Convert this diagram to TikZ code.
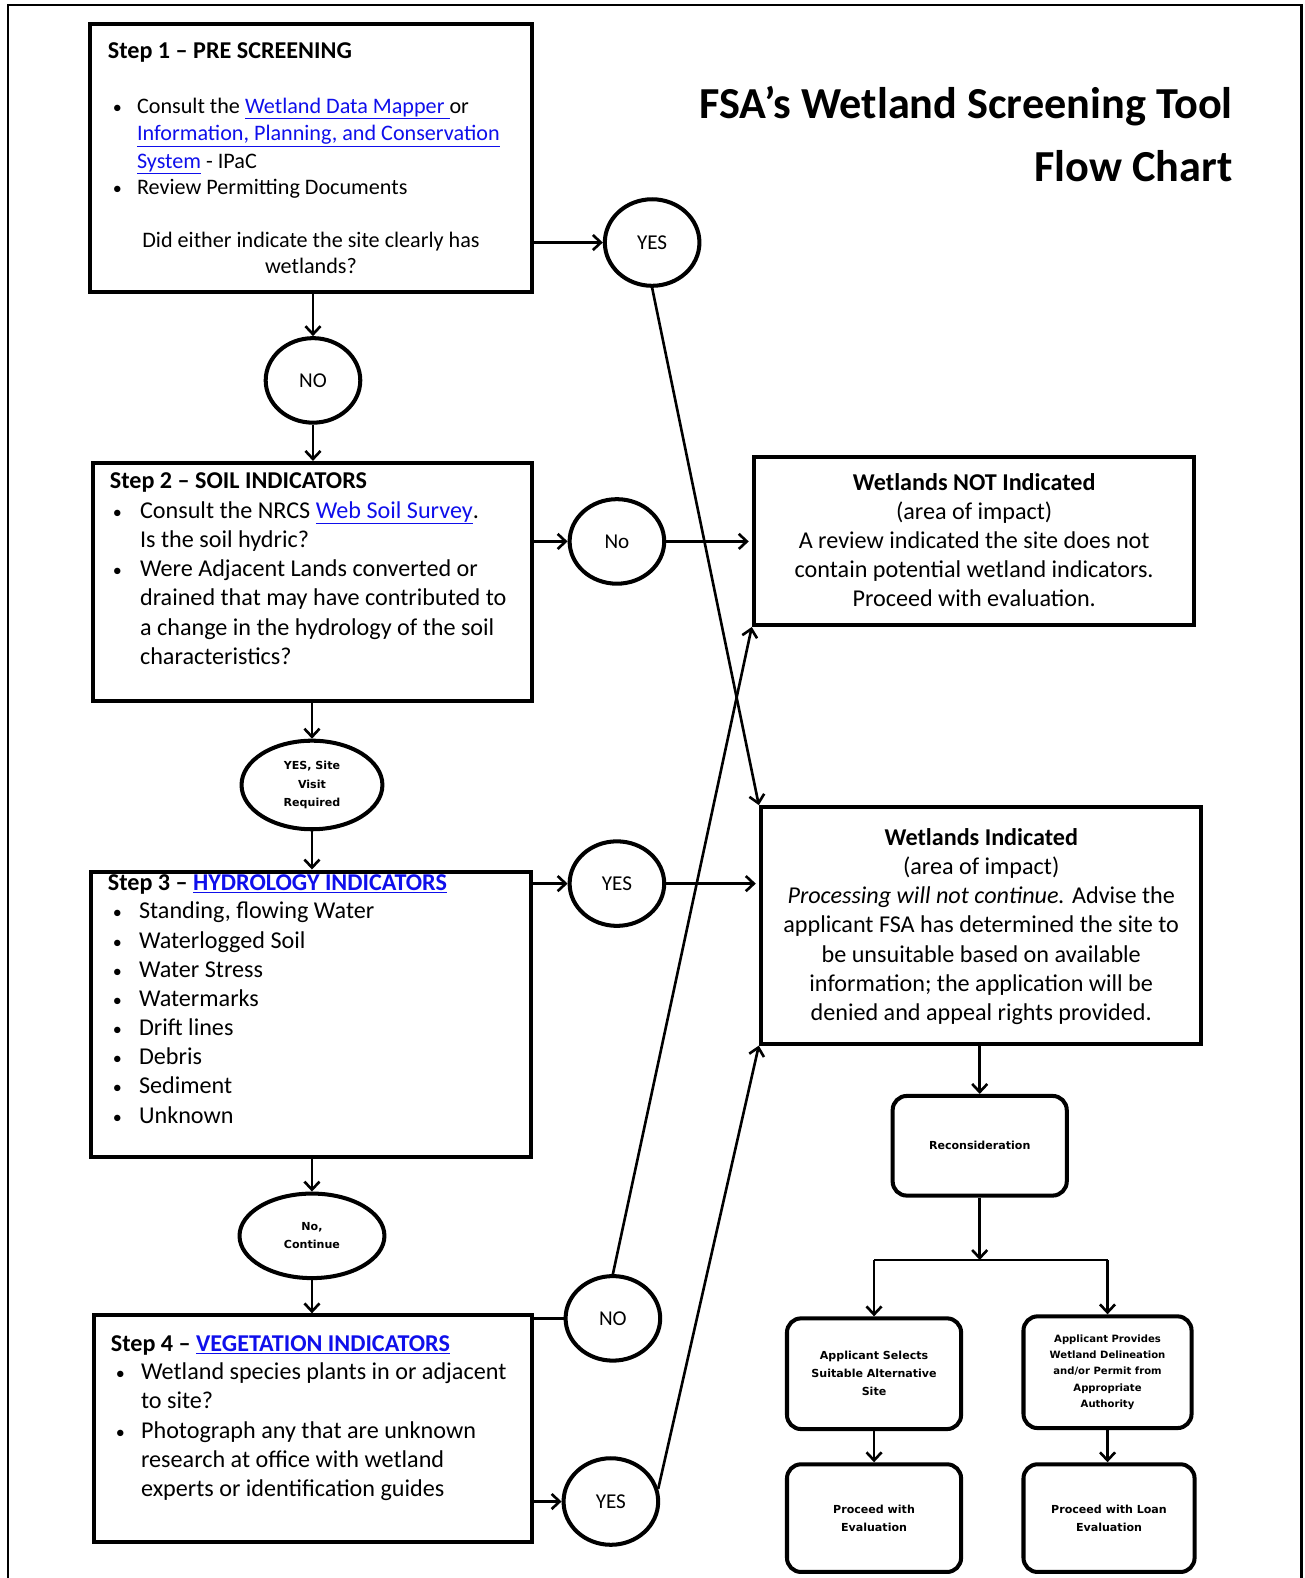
\documentclass[tikz,border=0pt]{standalone}
\usepackage{fontspec}
\setmainfont{Carlito}
\newfontfamily\dv{DejaVu Sans}
\usetikzlibrary{shapes.geometric,arrows.meta,calc}
\definecolor{linkblue}{RGB}{15,15,235}
\newcommand{\lnk}[1]{\textcolor{linkblue}{\underline{#1}}}
\newcommand{\bul}{{\fontsize{18}{18}\selectfont\textbullet}}
\begin{document}
\begin{tikzpicture}[x=1pt,y=-1pt,
 box/.style={draw,line width=4pt,inner sep=0pt},
 oval/.style={draw,ellipse,line width=4pt,inner sep=0pt,font=\fontsize{21}{25}\selectfont},
 soval/.style={draw,ellipse,line width=4pt,inner sep=0pt,align=center,font=\dv\bfseries\fontsize{11}{18}\selectfont},
 rbox/.style={draw,rounded corners=14pt,line width=4pt,inner sep=0pt,align=center,font=\dv\bfseries\fontsize{11}{18}\selectfont},
 conn/.style={line width=2.6pt,-{Straight Barb[length=8pt,width=15pt]}},
 plainln/.style={line width=2.6pt},
 body/.style={anchor=base west,inner sep=0pt,font=\fontsize{24}{29}\selectfont},
 bodyone/.style={anchor=base west,inner sep=0pt,font=\fontsize{22}{27}\selectfont},
 ctrone/.style={anchor=base,inner sep=0pt,font=\fontsize{22}{27}\selectfont},
 ctr/.style={anchor=base,inner sep=0pt,font=\fontsize{24}{29}\selectfont},
 ttl/.style={anchor=base west,inner sep=0pt,font=\bfseries\fontsize{24}{29}\selectfont},
]
\useasboundingbox (0,0) rectangle (1296,1568);
% outer frame
\draw[line width=2.5pt] (8,1568) -- (8,5) -- (1293,5) -- (1293,1568);

% title
\node[anchor=base east,inner sep=0pt,font=\bfseries\fontsize{44}{50}\selectfont] (t1) at (1225,118) {FSA’s Wetland Screening Tool};
\node[anchor=base east,inner sep=0pt,font=\bfseries\fontsize{44}{50}\selectfont] (t2) at (1225,180) {Flow Chart};

% boxes
\node[box,minimum width=440pt,minimum height=266pt] (s1) at (309,157) {};
\node[box,minimum width=437pt,minimum height=237pt] (s2) at (310.5,578.5) {};
\node[box,minimum width=438pt,minimum height=284pt] (s3) at (309,1008) {};
\node[box,minimum width=436pt,minimum height=225pt] (s4) at (311,1419.5) {};
\node[box,minimum width=437pt,minimum height=167pt] (wn) at (967.5,537.5) {};
\node[box,minimum width=437pt,minimum height=235pt] (wi) at (974.5,919.5) {};

% step 1 text
\node[ttl] (s1t) at (107,58) {Step 1 -- PRE SCREENING};
\node[bodyone] (s1b1) at (112,113) {\bul};
\node[bodyone] (s1l1) at (136,113) {Consult the \lnk{Wetland Data Mapper }or};
\node[bodyone] (s1l2) at (136,140) {\lnk{Information, Planning, and Conservation}};
\node[bodyone] (s1l3) at (136,167) {\lnk{System} - IPaC};
\node[bodyone] (s1b2) at (112,193) {\bul};
\node[bodyone] (s1l4) at (136,193) {Review Permitting Documents};
\node[ctrone] (s1q1) at (309,246) {Did either indicate the site clearly has};
\node[ctrone] (s1q2) at (309,272) {wetlands?};

% step 2 text
\node[ttl] (s2t) at (109,485) {Step 2 -- SOIL INDICATORS};
\node[body] (s2b1) at (112,515) {\bul};
\node[body] (s2l1) at (139,515) {Consult the NRCS \lnk{Web Soil Survey}.};
\node[body] (s2l2) at (139,544) {Is the soil hydric?};
\node[body] (s2b2) at (112,573) {\bul};
\node[body] (s2l3) at (139,573) {Were Adjacent Lands converted or};
\node[body] (s2l4) at (139,602) {drained that may have contributed to};
\node[body] (s2l5) at (139,631) {a change in the hydrology of the soil};
\node[body] (s2l6) at (139,660) {characteristics?};

% step 3 text
\node[ttl] (s3t) at (107,885) {Step 3 -- \lnk{HYDROLOGY INDICATORS}};
\foreach \yy/\tt [count=\i] in {913/{Standing, flowing Water},942/{Waterlogged Soil},971/{Water Stress},1000/{Watermarks},1029/{Drift lines},1058/{Debris},1087/{Sediment},1116/{Unknown}}{
  \node[body] (s3b\i) at (112,\yy) {\bul};
  \node[body] (s3l\i) at (138,\yy) {\tt};
}

% step 4 text
\node[ttl] (s4t) at (110,1343) {Step 4 -- \lnk{VEGETATION INDICATORS}};
\node[body] (s4b1) at (115,1371) {\bul};
\node[body] (s4l1) at (140,1371) {Wetland species plants in or adjacent};
\node[body] (s4l2) at (140,1400) {to site?};
\node[body] (s4b2) at (115,1429) {\bul};
\node[body] (s4l3) at (140,1429) {Photograph any that are unknown};
\node[body] (s4l4) at (140,1458) {research at office with wetland};
\node[body] (s4l5) at (140,1487) {experts or identification guides};

% wetlands not indicated text
\node[ctr,font=\bfseries\fontsize{24}{29}\selectfont] (wn1) at (968,487) {Wetlands NOT Indicated};
\node[ctr] (wn2) at (968,516) {(area of impact)};
\node[ctr] (wn3) at (968,545) {A review indicated the site does not};
\node[ctr] (wn4) at (968,574) {contain potential wetland indicators.};
\node[ctr] (wn5) at (968,603) {Proceed with evaluation.};

% wetlands indicated text
\node[ctr,font=\bfseries\fontsize{24}{29}\selectfont] (wi1) at (975,840) {Wetlands Indicated};
\node[ctr] (wi2) at (975,869) {(area of impact)};
\node[ctr] (wi3) at (975,898) {\textit{Processing will not continue.} Advise the};
\node[ctr] (wi4) at (975,927) {applicant FSA has determined the site to};
\node[ctr] (wi5) at (975,956) {be unsuitable based on available};
\node[ctr] (wi6) at (975,985) {information; the application will be};
\node[ctr] (wi7) at (975,1014) {denied and appeal rights provided.};

% decision ovals
\node[oval,minimum width=94pt,minimum height=86pt] (yes1) at (648,241) {YES};
\node[oval,minimum width=94pt,minimum height=84pt] (no1) at (311,378) {NO};
\node[oval,minimum width=94pt,minimum height=84pt] (no2) at (613,538) {No};
\node[soval,minimum width=140pt,minimum height=88pt] (ysv) at (310,780) {YES, Site\\Visit\\Required};
\node[oval,minimum width=94pt,minimum height=84pt] (yes3) at (613,878) {YES};
\node[soval,minimum width=144pt,minimum height=84pt] (nc) at (310,1228) {No,\\Continue};
\node[oval,minimum width=94pt,minimum height=84pt] (no4) at (609,1310) {NO};
\node[oval,minimum width=94pt,minimum height=86pt] (yes4) at (607,1492) {YES};

% rounded boxes
\node[rbox,minimum width=173pt,minimum height=99pt] (rc) at (973.5,1138.5) {Reconsideration};
\node[rbox,minimum width=173pt,minimum height=110pt] (a1) at (868.5,1365) {Applicant Selects\\Suitable Alternative\\Site};
\node[rbox,minimum width=167pt,minimum height=111pt,font=\dv\bfseries\fontsize{10}{16}\selectfont] (a2) at (1100.5,1363.5) {Applicant Provides\\Wetland Delineation\\and/or Permit from\\Appropriate\\Authority};
\node[rbox,minimum width=173pt,minimum height=107pt] (p1) at (868.5,1508.5) {Proceed with\\Evaluation};
\node[rbox,minimum width=170pt,minimum height=107pt] (p2) at (1102,1508.5) {Proceed with Loan\\Evaluation};

% connectors
\draw[conn] (s1.east |- yes1) -- (yes1.west);
\draw[conn] (s1.south -| no1) -- (no1.north);
\draw[conn] (no1.south) -- (s2.north -| no1);
\draw[conn] (s2.east |- no2) -- (no2.west);
\draw[conn,shorten >=3pt] (no2.east) -- (wn.west |- no2);
\draw[conn] (s2.south -| ysv) -- (ysv.north);
\draw[conn] (ysv.south) -- (s3.north -| ysv);
\draw[conn] (s3.east |- yes3) -- (yes3.west);
\draw[conn,shorten >=3pt] (yes3.east) -- (wi.west |- yes3);
\draw[conn] (s3.south -| nc) -- (nc.north);
\draw[conn] (nc.south) -- (s4.north -| nc);
\draw[plainln] (s4.east |- no4) -- (no4.west);
\draw[conn] (s4.east |- yes4) -- (yes4.west);
\draw[conn] (yes1.south) -- (wi.north west);
\draw[conn] (no4.north) -- (wn.south west);
\draw[conn] (yes4.15) -- (wi.south west);
\draw[conn] (wi.south -| rc) -- (rc.north);
\coordinate (jn) at (973.5,1252);
\draw[conn] (rc.south) -- (jn);
\draw[plainln] (jn -| a1) -- (jn -| a2);
\draw[conn] (jn -| a1) -- (a1.north);
\draw[conn] (jn -| a2) -- (a2.north);
\draw[conn] (a1.south) -- (p1.north -| a1);
\draw[conn] (a2.south) -- (p2.north -| a2);
\end{tikzpicture}
\end{document}
